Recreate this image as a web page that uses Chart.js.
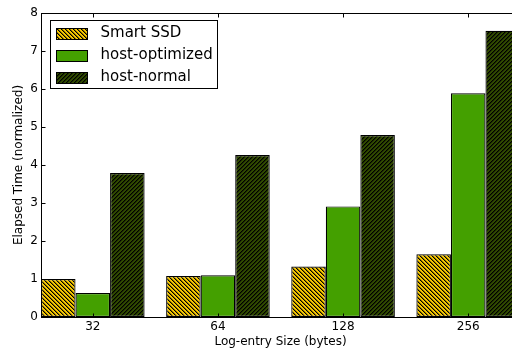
<!DOCTYPE html>
<html>
<head>
<meta charset="utf-8">
<script src="https://cdn.jsdelivr.net/npm/chart.js@4/dist/chart.umd.min.js"></script>
<style>
  html, body { margin: 0; padding: 0; overflow: hidden; background: #fff; }
  #c { display: block; }
</style>
</head>
<body>
<canvas id="c" width="540" height="351"></canvas>
<script>
// Log-entry sizes (bytes) and normalized elapsed times
const categories = ['32', '64', '128', '256'];
const smartSSD = [1.00, 1.08, 1.33, 1.65];
const hostOptimized = [0.63, 1.10, 2.91, 5.89];
const hostNormal = [3.79, 4.26, 4.79, 7.53];
const yTicks = [0, 1, 2, 3, 4, 5, 6, 7, 8];

const FONT = 'DejaVu Sans';

// Pixel-aligned diagonal hatch: dir 1 = "\\", dir -1 = "//"
function hatch(bg, dir) {
  const s = 4;
  const t = document.createElement('canvas');
  t.width = s; t.height = s;
  const g = t.getContext('2d');
  g.fillStyle = bg;
  g.fillRect(0, 0, s, s);
  for (let y = 0; y < s; y++) {
    for (let x = 0; x < s; x++) {
      const k = ((dir > 0 ? x - y : x + y) % s + s) % s;
      if (k === 0) { g.fillStyle = '#000'; g.fillRect(x, y, 1, 1); }
      else if (k === 1) { g.fillStyle = 'rgba(0,0,0,0.45)'; g.fillRect(x, y, 1, 1); }
    }
  }
  return g.createPattern(t, 'repeat');
}

const pts = arr => arr.map((v, i) => ({ x: i, y: v }));

// Axes frame with inward tick marks on every side
const framePlugin = {
  id: 'frame',
  afterDatasetsDraw(chart) {
    const { ctx, chartArea: a, scales: { x, y } } = chart;
    ctx.save();
    ctx.strokeStyle = '#000';
    ctx.lineWidth = 1;
    const L = Math.round(a.left) + 0.5, R = Math.round(a.right) - 0.5;
    const T = Math.round(a.top) + 0.5, B = Math.round(a.bottom) + 0.5;
    ctx.strokeRect(L, T, R - L, B - T);
    ctx.beginPath();
    y.ticks.forEach(t => {
      const py = Math.round(y.getPixelForValue(t.value)) + 0.5;
      ctx.moveTo(L, py); ctx.lineTo(L + 4, py);
      ctx.moveTo(R, py); ctx.lineTo(R - 4, py);
    });
    x.ticks.forEach(t => {
      const px = Math.round(x.getPixelForValue(t.value)) + 0.5;
      ctx.moveTo(px, B); ctx.lineTo(px, B - 4);
      ctx.moveTo(px, T); ctx.lineTo(px, T + 4);
    });
    ctx.stroke();
    ctx.restore();
  }
};

// Legend box in the upper-left corner of the plot
const legendBoxPlugin = {
  id: 'legendBox',
  afterDraw(chart) {
    const { ctx, chartArea: a } = chart;
    const bx = a.left + 9.5, by = a.top + 7.5, bw = 167, bh = 68;
    ctx.save();
    ctx.fillStyle = '#fff';
    ctx.fillRect(bx, by, bw, bh);
    ctx.strokeStyle = '#000';
    ctx.lineWidth = 1;
    ctx.strokeRect(bx, by, bw, bh);
    ctx.font = '15px "' + FONT + '"';
    ctx.textBaseline = 'middle';
    chart.data.datasets.forEach((ds, i) => {
      const cy = by + 13 + i * 22;
      const sx = bx + 6, sw = 31, sh = 11;
      ctx.fillStyle = ds.backgroundColor;
      ctx.fillRect(sx, Math.round(cy - sh / 2), sw, sh);
      ctx.strokeStyle = '#000';
      ctx.strokeRect(sx, Math.round(cy - sh / 2) + 0.5, sw, sh);
      ctx.fillStyle = '#000';
      ctx.fillText(ds.label, bx + 50, cy);
    });
    ctx.restore();
  }
};

new Chart(document.getElementById('c'), {
  type: 'bar',
  data: {
    datasets: [
      { label: 'Smart SSD', data: pts(smartSSD), backgroundColor: hatch('#f7c800', 1) },
      { label: 'host-optimized', data: pts(hostOptimized), backgroundColor: '#44a000' },
      { label: 'host-normal', data: pts(hostNormal), backgroundColor: hatch('#304a00', -1) }
    ]
  },
  options: {
    responsive: false,
    animation: false,
    devicePixelRatio: 1,
    layout: { padding: { left: 0, right: 20, top: 13, bottom: 0 } },
    datasets: {
      bar: {
        borderColor: '#000',
        borderWidth: 1.2,
        borderSkipped: false,
        categoryPercentage: 0.828,
        barPercentage: 1.0
      }
    },
    plugins: { legend: { display: false }, tooltip: { enabled: false } },
    scales: {
      x: {
        type: 'linear',
        offset: false,
        min: -0.414,
        max: 3.414,
        grid: { display: false, drawTicks: false, offset: false },
        border: { display: false },
        afterBuildTicks: s => { s.ticks = categories.map((_, i) => ({ value: i })); },
        afterFit: s => { s.height = 34; },
        ticks: {
          callback: v => categories[v],
          color: '#000',
          padding: 3,
          maxRotation: 0,
          font: { family: FONT, size: 12 }
        },
        title: {
          display: true,
          text: 'Log-entry Size (bytes)',
          color: '#000',
          padding: { top: 0, bottom: 2 },
          font: { family: FONT, size: 12 }
        }
      },
      y: {
        min: 0,
        max: 8,
        grid: { display: false, drawTicks: false },
        border: { display: false },
        afterBuildTicks: s => { s.ticks = yTicks.map(v => ({ value: v })); },
        afterFit: s => { s.width = 41; },
        ticks: {
          color: '#000',
          padding: 3,
          font: { family: FONT, size: 12 }
        },
        title: {
          display: true,
          text: 'Elapsed Time (normalized)',
          color: '#000',
          padding: { top: 12, bottom: 0 },
          font: { family: FONT, size: 12 }
        }
      }
    }
  },
  plugins: [framePlugin, legendBoxPlugin]
});
</script>
</body>
</html>
